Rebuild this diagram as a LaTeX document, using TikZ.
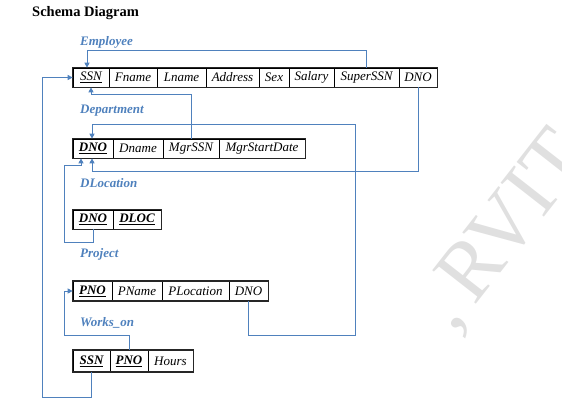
\documentclass[tikz,border=0pt]{standalone}
\usepackage{fontspec}
\setmainfont{Liberation Serif}
\usetikzlibrary{arrows.meta,calc}
\definecolor{lblue}{RGB}{79,129,189}
\definecolor{wmark}{RGB}{224,224,224}
\begin{document}
\begin{tikzpicture}[x=1pt,y=-1pt,
  cell/.style={draw=black,line width=0.7pt,inner sep=0pt,minimum height=19pt,
    font=\fontsize{13}{15}\selectfont\itshape,anchor=center},
  tblout/.style={draw=black!85,line width=1.4pt},
  lbl/.style={text=lblue,font=\fontsize{13}{15}\selectfont\bfseries\itshape,anchor=west,inner sep=0pt},
  arr/.style={draw=lblue,line width=0.9pt,-{Triangle[length=5pt,width=5pt]}},
  conn/.style={draw=lblue,line width=0.9pt}]
\useasboundingbox (0,0) rectangle (562,408);
% watermark
\begin{scope}
\clip (0,0) rectangle (562,408);
\node[text=wmark,font=\fontsize{84}{84}\selectfont,rotate=52,anchor=base west,inner sep=0pt] (wm) at (453,334) {,\,RVIT};
\end{scope}
% title
\node[anchor=west,inner sep=0pt,font=\fontsize{14.5}{16}\selectfont\bfseries] (title) at (32,13) {Schema Diagram};
% labels
\node[lbl] (lEmp) at (80,42) {Employee};
\node[lbl] (lDep) at (80,111) {Department};
\node[lbl] (lLoc) at (80,183) {DLocation};
\node[lbl] (lPrj) at (80,254) {Project};
\node[lbl] (lWrk) at (80,323) {Works\_on};
% Employee
\node[cell,minimum width=36pt] (eSSN) at (91,77.5) {\underline{SSN}};
\node[cell,minimum width=48pt] (eFn) at (133,77.5) {Fname};
\node[cell,minimum width=49pt] (eLn) at (181.5,77.5) {Lname};
\node[cell,minimum width=53pt] (eAd) at (232.5,77.5) {Address};
\node[cell,minimum width=30pt] (eSx) at (274,77.5) {Sex};
\node[cell,minimum width=45pt] (eSa) at (311.5,77.5) {Salary};
\node[cell,minimum width=65pt] (eSu) at (366.5,77.5) {SuperSSN};
\node[cell,minimum width=38pt] (eDNO) at (418,77.5) {DNO};
\draw[tblout] (eSSN.north west) rectangle (eDNO.south east);
% Department
\node[cell,minimum width=40pt] (dDNO) at (93,148.5) {\textbf{\underline{DNO}}};
\node[cell,minimum width=50pt] (dDn) at (138,148.5) {Dname};
\node[cell,minimum width=56pt] (dMgr) at (191,148.5) {MgrSSN};
\node[cell,minimum width=86pt] (dMsd) at (262,148.5) {MgrStartDate};
\draw[tblout] (dDNO.north west) rectangle (dMsd.south east);
% DLocation
\node[cell,minimum width=40pt] (lDNO) at (93,219.5) {\textbf{\underline{DNO}}};
\node[cell,minimum width=48pt] (lLOC) at (137,219.5) {\textbf{\underline{DLOC}}};
\draw[tblout] (lDNO.north west) rectangle (lLOC.south east);
% Project
\node[cell,minimum width=39pt] (pPNO) at (92.5,291) {\textbf{\underline{PNO}}};
\node[cell,minimum width=50pt] (pPn) at (137,291) {PName};
\node[cell,minimum width=67pt] (pPl) at (195.5,291) {PLocation};
\node[cell,minimum width=39pt] (pDNO) at (248.5,291) {DNO};
\draw[tblout] (pPNO.north west) rectangle (pDNO.south east);
% Works_on
\node[cell,minimum width=37pt,minimum height=21pt] (wSSN) at (91.5,361) {\textbf{\underline{SSN}}};
\node[cell,minimum width=38pt,minimum height=21pt] (wPNO) at (129,361) {\textbf{\underline{PNO}}};
\node[cell,minimum width=45pt,minimum height=21pt] (wHr) at (170.5,361) {Hours};
\draw[tblout] (wSSN.north west) rectangle (wHr.south east);
% coordinates for routing
\coordinate (L1) at (42,397);
\coordinate (L2) at (64,242);
\coordinate (L2b) at (64,165);
\coordinate (L3) at (64,335);
\coordinate (R1) at (355,335);
\coordinate (R2) at (355,124);
% connectors
\draw[arr] (eSu.north) -- ++(0,-17) -| ([xshift=-4pt]eSSN.north);
\draw[arr] (dMgr.north) -- ++(0,-44) -| (eSSN.south);
\draw[arr] (wSSN.south) |- (L1) |- (eSSN.west);
\draw[arr] (eDNO.south) -- ++(0,84) -| ([xshift=-1pt]dDNO.south);
\draw[arr] (lDNO.south) |- (L2) -- (L2b) -| ([xshift=-12pt]dDNO.south);
\draw[arr] (pDNO.south) |- (R1) -- (R2) -| ([xshift=-1pt]dDNO.north);
\draw[arr] (wPNO.north) |- (L3) |- (pPNO.west);
\end{tikzpicture}
\end{document}
